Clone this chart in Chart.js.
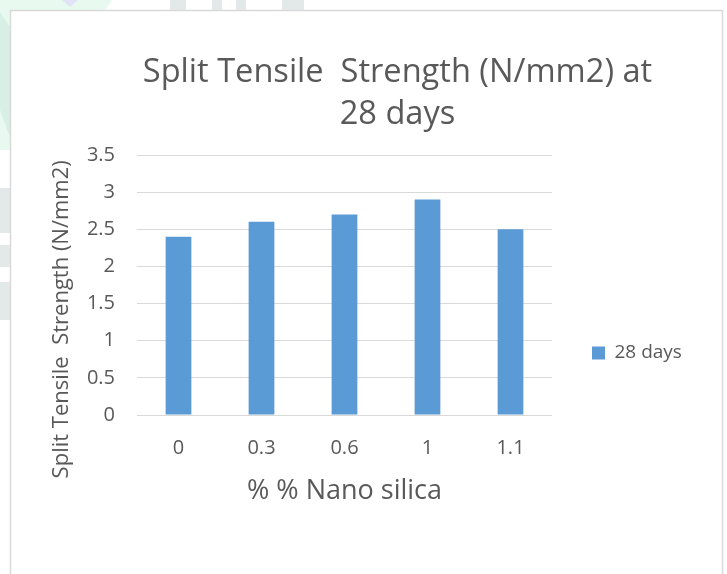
<!DOCTYPE html>
<html>
<head>
<meta charset="utf-8">
<script src="https://cdn.jsdelivr.net/npm/chart.js@4.4.1/dist/chart.umd.min.js"></script>
<style>
  html, body { margin: 0; padding: 0; background: #ffffff; }
  #wrap { width: 727px; height: 574px; }
</style>
</head>
<body>
<div id="wrap"><canvas id="c" width="727" height="574"></canvas></div>
<script>
// ---- data ----
const categories = ['0', '0.3', '0.6', '1', '1.1'];
const values28Days = [2.4, 2.6, 2.7, 2.9, 2.5];
const seriesLabel = '28 days';
const yTicks = [0, 0.5, 1, 1.5, 2, 2.5, 3, 3.5];
const chartTitle = ['Split Tensile  Strength (N/mm2) at', '28 days'];
const xAxisTitle = '% % Nano silica';
const yAxisTitle = 'Split Tensile  Strength (N/mm2)';

// ---- style ----
const FONT = "'Open Sans', 'Noto Sans', sans-serif";
const TEXT = '#595959';
const GRID = '#d9d9d9';
const BAR = '#5b9bd5';

// layout targets (pixels)
const PLOT_LEFT = 137, PLOT_RIGHT = 552, PLOT_BOTTOM = 415;
const PAD_LEFT = 68, PAD_RIGHT = 0;
const LEGEND_SIZE = 19, LEGEND_BOX = 13, LEGEND_PAD = 40;
const Y_TITLE_SIZE = 22, X_TITLE_SIZE = 27, TITLE_SIZE = 32.6;

const mctx = document.createElement('canvas').getContext('2d');
mctx.font = LEGEND_SIZE + 'px ' + FONT;
const legendW = LEGEND_PAD + LEGEND_BOX + LEGEND_SIZE / 2 + mctx.measureText(seriesLabel).width + 10;
const spacerW = Math.max(0, (727 - PAD_RIGHT - PLOT_RIGHT) - legendW);
mctx.font = Y_TITLE_SIZE + 'px ' + FONT;
const spaceW = mctx.measureText(' ').width;
const ySpaces = ' '.repeat(Math.round(68 / spaceW));

const background = {
  id: 'background',
  beforeDraw(chart) {
    const ctx = chart.ctx;
    ctx.save();
    ctx.fillStyle = '#ffffff';
    ctx.fillRect(0, 0, chart.width, chart.height);
    // faint page watermark around the chart frame
    ctx.fillStyle = '#e8faf0';
    ctx.beginPath(); ctx.moveTo(0, 0); ctx.lineTo(112, 0); ctx.lineTo(12, 150); ctx.lineTo(0, 150); ctx.closePath(); ctx.fill();
    ctx.fillStyle = '#d8efe6';
    ctx.beginPath(); ctx.moveTo(0, 12); ctx.lineTo(12, 30); ctx.lineTo(12, 143); ctx.lineTo(0, 110); ctx.closePath(); ctx.fill();
    ctx.fillStyle = '#e2e2f6';
    ctx.beginPath(); ctx.moveTo(62, 0); ctx.lineTo(78, 0); ctx.lineTo(70, 7); ctx.closePath(); ctx.fill();
    ctx.fillStyle = '#e3e8e8';
    ctx.fillRect(170, 0, 16, 12);
    ctx.fillRect(212, 0, 10, 12);
    ctx.fillRect(236, 0, 10, 12);
    ctx.fillRect(282, 0, 22, 12);
    ctx.fillRect(0, 188, 12, 45);
    ctx.fillRect(0, 245, 12, 22);
    ctx.fillRect(0, 282, 12, 38);
    // chart frame
    ctx.fillStyle = '#ffffff';
    ctx.fillRect(11, 11, 711, 600);
    ctx.strokeStyle = '#d9d9d9';
    ctx.lineWidth = 1.5;
    ctx.beginPath();
    ctx.moveTo(10.5, 600); ctx.lineTo(10.5, 10.5); ctx.lineTo(722.5, 10.5); ctx.lineTo(722.5, 600);
    ctx.stroke();
    ctx.restore();
  }
};

new Chart(document.getElementById('c'), {
  type: 'bar',
  data: {
    labels: categories,
    datasets: [{
      label: seriesLabel,
      data: values28Days,
      backgroundColor: BAR,
      borderWidth: 0,
      barPercentage: 0.31,
      categoryPercentage: 1.0
    }]
  },
  options: {
    responsive: false,
    animation: false,
    devicePixelRatio: 1,
    layout: { padding: { top: 0, left: PAD_LEFT, right: PAD_RIGHT, bottom: 0 } },
    plugins: {
      title: {
        display: true,
        text: chartTitle,
        color: TEXT,
        font: { family: FONT, size: TITLE_SIZE, weight: 'normal', lineHeight: 42 / TITLE_SIZE },
        padding: { top: 52, bottom: 19 }
      },
      legend: {
        display: true,
        position: 'right',
        align: 'center',
        fullSize: false,
        maxWidth: 300,
        title: { display: true, text: '', font: { size: 12, lineHeight: 1.2 }, padding: { top: 136 - 14.4, bottom: 0 } },
        labels: {
          boxWidth: LEGEND_BOX,
          boxHeight: LEGEND_BOX,
          padding: LEGEND_PAD,
          color: TEXT,
          font: { family: FONT, size: LEGEND_SIZE }
        }
      },
      tooltip: { enabled: false }
    },
    scales: {
      x: {
        grid: { display: false, drawTicks: false },
        border: { display: false },
        ticks: { color: TEXT, font: { family: FONT, size: 20 }, padding: 21 },
        title: {
          display: true,
          text: xAxisTitle,
          color: TEXT,
          font: { family: FONT, size: X_TITLE_SIZE },
          padding: { top: 0, bottom: 159 - (491 - PLOT_BOTTOM) - X_TITLE_SIZE * 1.2 / 2 }
        },
        afterFit(scale) { scale.height = 574 - PLOT_BOTTOM; }
      },
      y: {
        min: 0,
        max: 3.5,
        grid: { color: GRID, lineWidth: 1, drawTicks: false },
        border: { display: false },
        ticks: {
          color: TEXT,
          font: { family: FONT, size: 20 },
          padding: 22,
          callback: (value) => String(value)
        },
        afterBuildTicks(scale) { scale.ticks = yTicks.map(v => ({ value: v })); },
        title: {
          display: true,
          text: yAxisTitle + ySpaces,
          color: TEXT,
          font: { family: FONT, size: Y_TITLE_SIZE },
          padding: { top: 62 - PAD_LEFT - Y_TITLE_SIZE * 1.2 / 2, bottom: 0 }
        },
        afterFit(scale) { scale.width = PLOT_LEFT - PAD_LEFT; }
      },
      spacer: {
        type: 'linear',
        position: 'right',
        weight: 2000,
        display: true,
        grid: { display: false, drawTicks: false },
        border: { display: false },
        ticks: { display: false },
        afterFit(scale) { scale.width = spacerW; }
      }
    }
  },
  plugins: [background]
});
</script>
</body>
</html>
